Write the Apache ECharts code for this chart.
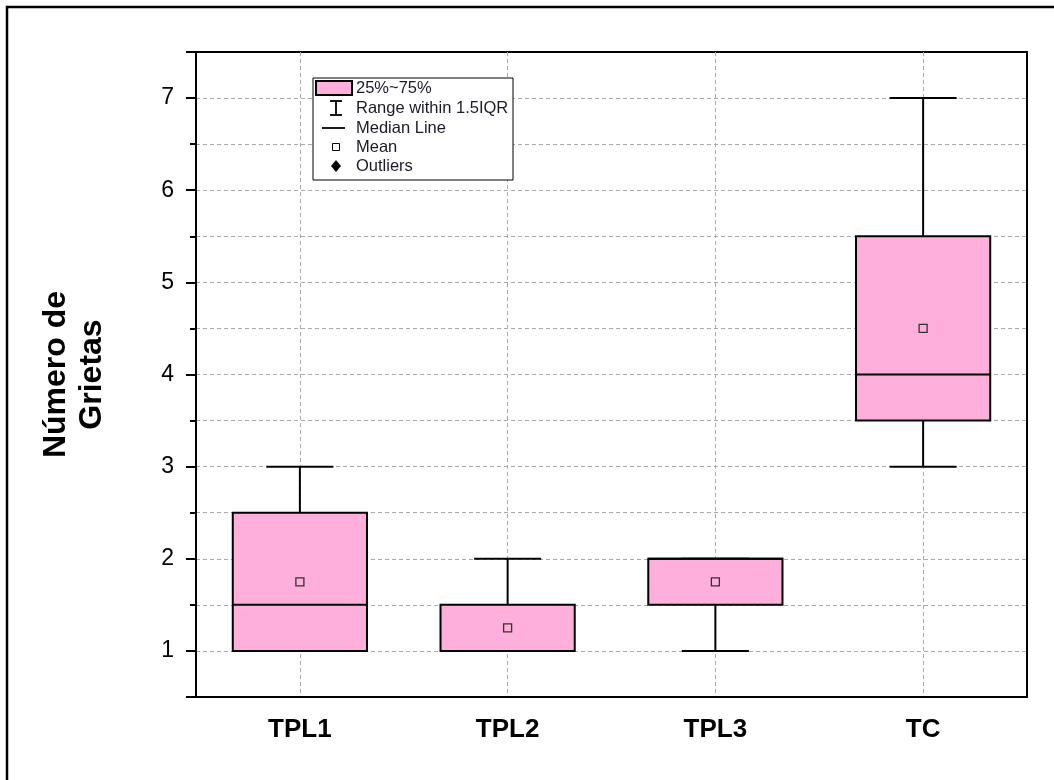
<!DOCTYPE html>
<html>
<head>
<meta charset="utf-8">
<script src="https://cdn.jsdelivr.net/npm/echarts@6/dist/echarts.min.js"></script>
<style>
html,body{margin:0;padding:0;background:#fff;}
#chart{width:1054px;height:780px;}
</style>
</head>
<body>
<div id="chart"></div>
<script>
// ---- data ----
const categories = ['TPL1', 'TPL2', 'TPL3', 'TC'];
const whiskerLow  = [1, 1, 1, 3];
const q1          = [1, 1, 1.5, 3.5];
const median      = [1.5, 1, 2, 4];
const q3          = [2.5, 1.5, 2, 5.5];
const whiskerHigh = [3, 2, 2, 7];
const mean        = [1.75, 1.25, 1.75, 4.5];
const yTickLabels = ['1', '2', '3', '4', '5', '6', '7'];
const legendLabels = ['25%~75%', 'Range within 1.5IQR', 'Median Line', 'Mean', 'Outliers'];

const FONT = "'Liberation Sans', Arial, sans-serif";
const PINK = '#FFAFDB';

const boxData = categories.map((c, i) => [i, whiskerLow[i], q1[i], median[i], q3[i], whiskerHigh[i], mean[i]]);

function renderBox(params, api) {
  const i = api.value(0);
  const band = api.size([1, 0])[0];
  const bw = band * 0.646;
  const cw = bw / 2;
  const pLow = api.coord([i, api.value(1)]);
  const pQ1 = api.coord([i, api.value(2)]);
  const pMed = api.coord([i, api.value(3)]);
  const pQ3 = api.coord([i, api.value(4)]);
  const pHigh = api.coord([i, api.value(5)]);
  const pMean = api.coord([i, api.value(6)]);
  const x = pQ1[0];
  const lineStyle = { stroke: '#000', lineWidth: 2, fill: null };
  const children = [];
  // whiskers
  children.push({ type: 'line', shape: { x1: x, y1: pQ3[1], x2: x, y2: pHigh[1] }, style: lineStyle });
  children.push({ type: 'line', shape: { x1: x, y1: pQ1[1], x2: x, y2: pLow[1] }, style: lineStyle });
  children.push({ type: 'line', shape: { x1: x - cw / 2, y1: pHigh[1], x2: x + cw / 2, y2: pHigh[1] }, style: lineStyle });
  children.push({ type: 'line', shape: { x1: x - cw / 2, y1: pLow[1], x2: x + cw / 2, y2: pLow[1] }, style: lineStyle });
  // box
  children.push({ type: 'rect', shape: { x: x - bw / 2, y: pQ3[1], width: bw, height: pQ1[1] - pQ3[1] },
    style: { fill: PINK, stroke: '#000', lineWidth: 2 } });
  // median
  children.push({ type: 'line', shape: { x1: x - bw / 2, y1: pMed[1], x2: x + bw / 2, y2: pMed[1] }, style: lineStyle });
  // mean
  children.push({ type: 'rect', shape: { x: pMean[0] - 4, y: pMean[1] - 4, width: 8, height: 8 },
    style: { fill: null, stroke: '#333', lineWidth: 1.3 } });
  return { type: 'group', children: children };
}

// legend drawn as graphic
const LX = 313, LY = 78;
const rowY = [88, 108, 128, 147, 166];
const legendGraphic = [
  { type: 'rect', shape: { x: LX, y: LY, width: 200, height: 102 }, style: { fill: '#fff', stroke: '#000', lineWidth: 1 }, z: 100 },
  { type: 'rect', shape: { x: LX + 3, y: LY + 3, width: 36, height: 14 }, style: { fill: PINK, stroke: '#000', lineWidth: 2 }, z: 101 },
  { type: 'line', shape: { x1: 336, y1: 101, x2: 336, y2: 115 }, style: { stroke: '#000', lineWidth: 1.8 }, z: 101 },
  { type: 'line', shape: { x1: 330, y1: 101, x2: 342, y2: 101 }, style: { stroke: '#000', lineWidth: 1.8 }, z: 101 },
  { type: 'line', shape: { x1: 330, y1: 115, x2: 342, y2: 115 }, style: { stroke: '#000', lineWidth: 1.8 }, z: 101 },
  { type: 'line', shape: { x1: 322, y1: 128, x2: 345, y2: 128 }, style: { stroke: '#000', lineWidth: 1.8 }, z: 101 },
  { type: 'rect', shape: { x: 332.5, y: 143.5, width: 7, height: 7 }, style: { fill: '#fff', stroke: '#000', lineWidth: 1 }, z: 101 },
  { type: 'polygon', shape: { points: [[336, 160], [341, 166], [336, 172], [331, 166]] }, style: { fill: '#000' }, z: 101 }
].concat(legendLabels.map((t, k) => ({
  type: 'text', x: 356, y: rowY[k], z: 101,
  style: { text: t, font: '16.5px ' + FONT, fill: '#1a1a2a', verticalAlign: 'middle', textAlign: 'left' }
})));

const outerFrame = { type: 'rect', shape: { x: 7, y: 7, width: 1200, height: 1000 }, style: { fill: null, stroke: '#000', lineWidth: 2.5 }, z: 1 };

const gridLine = { show: true, lineStyle: { color: '#aaa', type: [4, 3], width: 1 } };

const option = {
  animation: false,
  backgroundColor: '#fff',
  grid: { left: 196, right: 27, top: 52, bottom: 83, show: true, borderColor: '#000', borderWidth: 2, backgroundColor: 'transparent' },
  xAxis: [{
    type: 'category',
    data: categories,
    boundaryGap: true,
    axisLine: { lineStyle: { color: '#000', width: 2 } },
    axisTick: { alignWithLabel: true, length: 10, lineStyle: { color: '#000', width: 2 } },
    axisLabel: { color: '#000', fontFamily: FONT, fontWeight: 'bold', fontSize: 26, margin: 20 },
    splitLine: Object.assign({ alignWithLabel: true }, gridLine)
  }],
  yAxis: [{
    type: 'value',
    min: 0.5,
    max: 7.5,
    splitNumber: 7,
    name: 'Número de\nGrietas',
    nameLocation: 'middle',
    nameGap: 86,
    nameTextStyle: { color: '#000', fontFamily: FONT, fontWeight: 'bold', fontSize: 32, lineHeight: 36 },
    axisLine: { show: true, lineStyle: { color: '#000', width: 2 } },
    axisTick: { show: true, length: 10, lineStyle: { color: '#000', width: 2 } },
    minorTick: { show: true, splitNumber: 2, length: 6, lineStyle: { color: '#000', width: 2 } },
    axisLabel: {
      color: '#000', fontFamily: FONT, fontSize: 23, margin: 22,
      formatter: v => { const s = String(v); return yTickLabels.indexOf(s) >= 0 ? s : ''; }
    },
    splitLine: Object.assign({ showMinLine: false, showMaxLine: false }, gridLine),
    minorSplitLine: gridLine
  }],
  graphic: [outerFrame].concat(legendGraphic),
  series: [{
    type: 'custom',
    name: '25%~75%',
    renderItem: renderBox,
    encode: { x: 0, y: [1, 2, 3, 4, 5, 6] },
    data: boxData,
    z: 10
  }]
};

const chart = echarts.init(document.getElementById('chart'), null, { renderer: 'canvas' });
chart.setOption(option);
</script>
</body>
</html>
